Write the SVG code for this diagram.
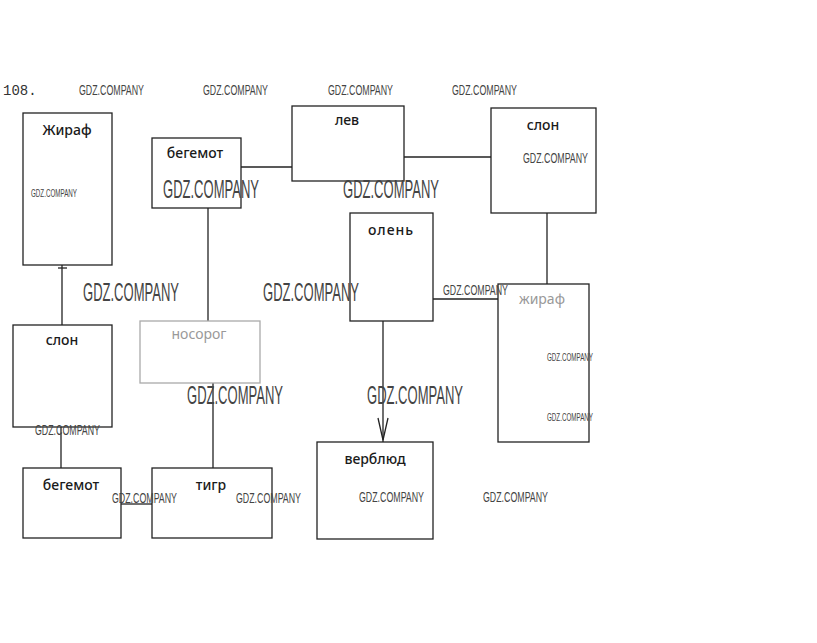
<svg xmlns="http://www.w3.org/2000/svg" width="817" height="643" viewBox="0 0 817 643">
<style>
.box{fill:none;stroke:#222;stroke-width:1.3}
.faint{fill:none;stroke:#aaa;stroke-width:1.3}
.lbl{font-family:"Noto Sans","DejaVu Sans",sans-serif;font-size:14px;font-weight:500;fill:#1a1a1a;text-anchor:middle}
.glbl{font-family:"Noto Sans","DejaVu Sans",sans-serif;font-size:14px;fill:#999;text-anchor:middle}
.wm{font-family:"Liberation Sans","DejaVu Sans",sans-serif;fill:#444}
.s{font-size:14px}
.t{font-size:10px}
.l{font-size:25px}
.con{stroke:#222;stroke-width:1.3;fill:none}
</style>
<rect width="817" height="643" fill="#fff"/>
<text x="3" y="95" font-family="Liberation Mono,monospace" font-size="14" fill="#333">108.</text>

<g id="connectors">
<line class="con" x1="241" y1="167" x2="292" y2="167"/>
<line class="con" x1="404" y1="157" x2="491" y2="157"/>
<line class="con" x1="547" y1="213" x2="547" y2="284"/>
<line class="con" x1="433" y1="299" x2="498" y2="299"/>
<line class="con" x1="383" y1="321" x2="383" y2="442"/>
<polyline class="con" points="378,418 383,440 388,418"/>
<line class="con" x1="208" y1="208" x2="208" y2="321" stroke="#666"/>
<line class="con" x1="213" y1="383" x2="213" y2="468"/>
<line class="con" x1="62" y1="265" x2="62" y2="325"/>
<line class="con" x1="58" y1="268" x2="67" y2="268"/>
<line class="con" x1="61" y1="427" x2="61" y2="468"/>
<line class="con" x1="121" y1="504" x2="152" y2="504"/>
</g>

<g id="n-zhiraf1"><rect class="box" x="23" y="113" width="89" height="152"/><text class="lbl" x="67" y="135">Жираф</text></g>
<g id="n-begemot1"><rect class="box" x="152" y="138" width="89" height="70"/><text class="lbl" x="195" y="158">бегемот</text></g>
<g id="n-lev"><rect class="box" x="292" y="106" width="112" height="75"/><text class="lbl" x="347" y="125">лев</text></g>
<g id="n-slon1"><rect class="box" x="491" y="108" width="105" height="105"/><text class="lbl" x="543" y="130">слон</text></g>
<g id="n-olen"><rect class="box" x="350" y="213" width="83" height="108"/><text class="lbl" x="391" y="235" letter-spacing="1">олень</text></g>
<g id="n-zhiraf2"><rect class="box" x="498" y="284" width="91" height="158"/><text class="glbl" x="542" y="304">жираф</text></g>
<g id="n-slon2"><rect class="box" x="13" y="325" width="99" height="102"/><text class="lbl" x="62" y="345">слон</text></g>
<g id="n-nosorog"><rect class="faint" x="140" y="321" width="120" height="62"/><text class="glbl" x="199" y="339">носорог</text></g>
<g id="n-begemot2"><rect class="box" x="23" y="468" width="98" height="70"/><text class="lbl" x="71" y="490">бегемот</text></g>
<g id="n-tigr"><rect class="box" x="152" y="468" width="120" height="70"/><text class="lbl" x="211" y="490">тигр</text></g>
<g id="n-verblyud"><rect class="box" x="317" y="442" width="116" height="97"/><text class="lbl" x="375" y="464">верблюд</text></g>

<g id="watermarks" class="wm">
<text class="s" x="79" y="95" textLength="65" lengthAdjust="spacingAndGlyphs">GDZ.COMPANY</text>
<text class="s" x="203" y="95" textLength="65" lengthAdjust="spacingAndGlyphs">GDZ.COMPANY</text>
<text class="s" x="328" y="95" textLength="65" lengthAdjust="spacingAndGlyphs">GDZ.COMPANY</text>
<text class="s" x="452" y="95" textLength="65" lengthAdjust="spacingAndGlyphs">GDZ.COMPANY</text>
<text class="t" x="31" y="197" textLength="46" lengthAdjust="spacingAndGlyphs">GDZ.COMPANY</text>
<text class="s" x="523" y="163" textLength="65" lengthAdjust="spacingAndGlyphs">GDZ.COMPANY</text>
<text class="l" x="163" y="198" textLength="96" lengthAdjust="spacingAndGlyphs">GDZ.COMPANY</text>
<text class="l" x="343" y="198" textLength="96" lengthAdjust="spacingAndGlyphs">GDZ.COMPANY</text>
<text class="l" x="83" y="301" textLength="96" lengthAdjust="spacingAndGlyphs">GDZ.COMPANY</text>
<text class="l" x="263" y="301" textLength="96" lengthAdjust="spacingAndGlyphs">GDZ.COMPANY</text>
<text class="s" x="443" y="295" textLength="65" lengthAdjust="spacingAndGlyphs">GDZ.COMPANY</text>
<text class="t" x="547" y="361" textLength="46" lengthAdjust="spacingAndGlyphs">GDZ.COMPANY</text>
<text class="t" x="547" y="421" textLength="46" lengthAdjust="spacingAndGlyphs">GDZ.COMPANY</text>
<text class="l" x="187" y="404" textLength="96" lengthAdjust="spacingAndGlyphs">GDZ.COMPANY</text>
<text class="l" x="367" y="404" textLength="96" lengthAdjust="spacingAndGlyphs">GDZ.COMPANY</text>
<text class="s" x="35" y="435" textLength="65" lengthAdjust="spacingAndGlyphs">GDZ.COMPANY</text>
<text class="s" x="112" y="503" textLength="65" lengthAdjust="spacingAndGlyphs">GDZ.COMPANY</text>
<text class="s" x="236" y="503" textLength="65" lengthAdjust="spacingAndGlyphs">GDZ.COMPANY</text>
<text class="s" x="359" y="502" textLength="65" lengthAdjust="spacingAndGlyphs">GDZ.COMPANY</text>
<text class="s" x="483" y="502" textLength="65" lengthAdjust="spacingAndGlyphs">GDZ.COMPANY</text>
</g>
</svg>
